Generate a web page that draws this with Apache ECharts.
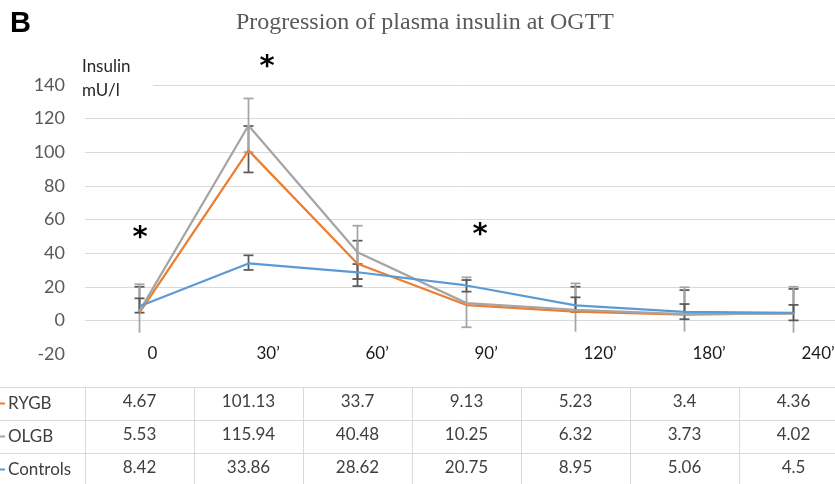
<!DOCTYPE html>
<html>
<head>
<meta charset="utf-8">
<script src="https://cdn.jsdelivr.net/npm/echarts@6/dist/echarts.min.js"></script>
<style>html,body{margin:0;padding:0;background:#fff}#c{width:835px;height:484px}</style>
</head>
<body>
<div id="c"></div>
<script>
const categories = ['0', '30’', '60’', '90’', '120’', '180’', '240’'];
const rygb = [4.67, 101.13, 33.7, 9.13, 5.23, 3.4, 4.36];
const olgb = [5.53, 115.94, 40.48, 10.25, 6.32, 3.73, 4.02];
const controls = [8.42, 33.86, 28.62, 20.75, 8.95, 5.06, 4.5];

// error bar ends
const rygbErrHigh = [20, 115.6, 47.4, null, 20, 18, 18.7];
const rygbErrLow = [null, 88, 20.4, null, null, null, null];
const olgbErrHigh = [21.5, 132, 56.3, 25.6, 22, 19.7, 20];
const olgbErrLow = [-7.3, 100, 24.6, -4.1, -6.7, -6.7, -7.3];
const olgbLowCap = [0, 1, 1, 1, 0, 0, 0];
const ctrlErrHigh = [13.1, 38.7, 33.5, 24, 13.7, 9.7, 9.2];
const ctrlErrLow = [4.6, 30, 24.6, 17.1, 5, 0.7, 0];

const rows = ['RYGB', 'OLGB', 'Controls'];
const rowValues = [rygb, olgb, controls];
const colors = {RYGB: '#ed7d31', OLGB: '#a5a5a5', Controls: '#5b9bd5'};

const FONT = 'Lato';

function errSeries(vals, low, high, lowCap, color) {
  const data = [];
  categories.forEach((c, i) => {
    if (high[i] == null && low[i] == null) return;
    const lo = low[i] == null ? vals[i] : low[i];
    const capLo = low[i] == null ? 0 : (lowCap ? lowCap[i] : 1);
    const hi = high[i] == null ? vals[i] : high[i];
    data.push([i, lo, hi, capLo]);
  });
  return {
    type: 'custom',
    xAxisIndex: 0, yAxisIndex: 0,
    z: 2,
    encode: {x: 0, y: [1, 2]},
    data: data,
    renderItem: function (params, api) {
      const x = api.value(0);
      const pLo = api.coord([x, api.value(1)]);
      const pHi = api.coord([x, api.value(2)]);
      const st = {stroke: color, lineWidth: 1.75};
      const ch = [
        {type: 'line', shape: {x1: pLo[0], y1: pLo[1], x2: pHi[0], y2: pHi[1]}, style: st},
        {type: 'line', shape: {x1: pHi[0] - 5, y1: pHi[1], x2: pHi[0] + 5, y2: pHi[1]}, style: st}
      ];
      if (api.value(3)) {
        ch.push({type: 'line', shape: {x1: pLo[0] - 5, y1: pLo[1], x2: pLo[0] + 5, y2: pLo[1]}, style: st});
      }
      return {type: 'group', children: ch};
    }
  };
}

function lineSeries(name, vals) {
  return {
    name: name, type: 'line', data: vals, xAxisIndex: 0, yAxisIndex: 0,
    showSymbol: false, symbol: 'none', z: 3,
    lineStyle: {color: colors[name], width: 2.25},
    itemStyle: {color: colors[name]}
  };
}

const tableData = [];
rowValues.forEach((vals, r) => vals.forEach((v, c) => tableData.push([c, r, v])));

const chart = echarts.init(document.getElementById('c'));
chart.setOption({
  animation: false,
  backgroundColor: '#fff',
  title: {
    text: 'Progression of plasma insulin at OGTT',
    left: 420, top: 6, textAlign: 'center',
    textStyle: {fontFamily: 'Liberation Serif', fontSize: 24, fontWeight: 'normal', color: '#595959'}
  },
  grid: [
    {left: 85, top: 85, width: 763, height: 269, containLabel: false, outerBoundsMode: 'none'},
    {left: 85, top: 387, width: 763, height: 99, containLabel: false, outerBoundsMode: 'none'}
  ],
  xAxis: [
    {
      type: 'category', data: categories, gridIndex: 0,
      axisLine: {show: false}, axisTick: {show: false},
      axisLabel: {
        margin: 0, verticalAlign: 'middle', align: 'left', padding: [0, 0, 0, 8],
        fontFamily: FONT, fontSize: 17, color: '#1a1a1a', interval: 0
      },
      splitLine: {show: false}
    },
    {
      type: 'category', data: categories, gridIndex: 1,
      axisLine: {show: false}, axisTick: {show: false}, axisLabel: {show: false},
      splitLine: {show: true, interval: 0, lineStyle: {color: '#d9d9d9', width: 1}}
    }
  ],
  yAxis: [
    {
      type: 'value', gridIndex: 0, min: -20, max: 140, interval: 20,
      axisLine: {show: false}, axisTick: {show: false},
      axisLabel: {margin: 20, fontFamily: FONT, fontSize: 18, color: '#595959'},
      splitLine: {show: true, showMinLine: false, lineStyle: {color: '#d9d9d9', width: 1}}
    },
    {
      type: 'category', gridIndex: 1, data: rows, inverse: true,
      axisLine: {show: true, lineStyle: {color: '#d9d9d9', width: 1}},
      axisTick: {show: true, length: 85, lineStyle: {color: '#d9d9d9', width: 1}},
      splitLine: {show: true, interval: 0, lineStyle: {color: '#d9d9d9', width: 1}},
      axisLabel: {
        align: 'left', margin: 85, interval: 0,
        formatter: function (v) { return '{k' + v + '|}{t|' + v + '}'; },
        rich: {
          kRYGB: {width: 5, height: 2, backgroundColor: colors.RYGB},
          kOLGB: {width: 5, height: 2, backgroundColor: colors.OLGB},
          kControls: {width: 5, height: 2, backgroundColor: colors.Controls},
          t: {fontFamily: FONT, fontSize: 17, color: '#404040', padding: [0, 0, 0, 3]}
        }
      }
    }
  ],
  graphic: [
    {type: 'text', left: 10, top: 9, z: 100,
      style: {text: 'B', font: 'bold 29px "Liberation Sans"', fill: '#000'}},
    {type: 'rect', shape: {x: 80, y: 56, width: 73, height: 46}, style: {fill: '#fff'}, z: 100},
    {type: 'text', x: 82, y: 67, z: 101,
      style: {text: 'Insulin', font: '17px ' + FONT, fill: '#262626', verticalAlign: 'middle'}},
    {type: 'text', x: 82, y: 91, z: 101,
      style: {text: 'mU/l', font: '17px ' + FONT, fill: '#262626', verticalAlign: 'middle'}},
    {type: 'text', x: 267, y: 53, z: 101,
      style: {text: '*', font: 'bold 29px "DejaVu Sans"', fill: '#000', align: 'center', verticalAlign: 'top'}},
    {type: 'text', x: 140, y: 224, z: 101,
      style: {text: '*', font: 'bold 29px "DejaVu Sans"', fill: '#000', align: 'center', verticalAlign: 'top'}},
    {type: 'text', x: 480, y: 221, z: 101,
      style: {text: '*', font: 'bold 29px "DejaVu Sans"', fill: '#000', align: 'center', verticalAlign: 'top'}}
  ],
  series: [
    errSeries(rygb, rygbErrLow, rygbErrHigh, null, '#595959'),
    errSeries(olgb, olgbErrLow, olgbErrHigh, olgbLowCap, '#a5a5a5'),
    errSeries(controls, ctrlErrLow, ctrlErrHigh, null, '#595959'),
    lineSeries('RYGB', rygb),
    lineSeries('OLGB', olgb),
    lineSeries('Controls', controls),
    {
      type: 'custom', xAxisIndex: 1, yAxisIndex: 1, data: tableData,
      encode: {x: 0, y: 1},
      renderItem: function (params, api) {
        const p = api.coord([api.value(0), api.value(1)]);
        return {type: 'text', x: p[0], y: p[1] - 2,
          style: {text: String(api.value(2)), font: '17px ' + FONT, fill: '#404040', align: 'center', verticalAlign: 'middle'}};
      }
    }
  ]
});
</script>
</body>
</html>
